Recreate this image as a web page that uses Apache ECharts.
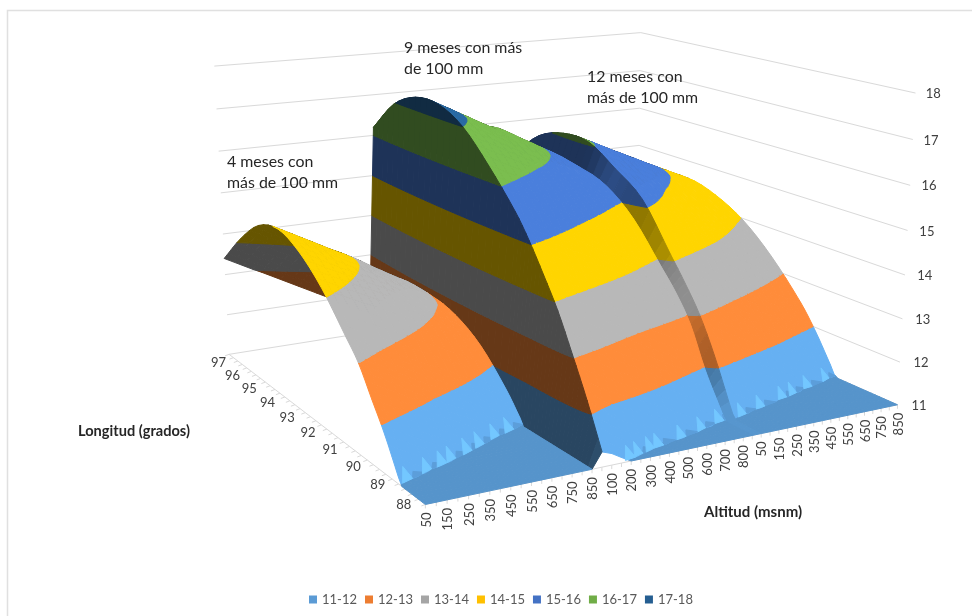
<!DOCTYPE html>
<html><head><meta charset="utf-8">
<script src="https://cdn.jsdelivr.net/npm/echarts@6/dist/echarts.min.js"></script>
<style>html,body{margin:0;padding:0;background:#fff}#c{width:972px;height:616px}</style>
</head><body><div id="c"></div>
<script>
// ---------- data ----------
const altitudes = [50,100,150,200,250,300,350,400,450,500,550,600,650,700,750,800,850];
const longitudes = [88,88.5,89,89.5,90,90.5,91,92,93,94,95,96,97];
const longitudeLabels = [88,89,90,91,92,93,94,95,96,97];
const temperatureTicks = [11,12,13,14,15,16,17,18];
const bandNames = ['11-12','12-13','13-14','14-15','15-16','16-17','17-18'];
// one row per longitude, one column per altitude; values under the axis minimum (11) lie on the chart floor
const temp4Meses = [
[11,11,11,11,11,11,11,11,11,11,11,11,11,11,11,11,11],
[10.45,10.33,10.2,10.08,9.95,9.83,9.7,9.58,9.45,9.33,9.2,9.08,8.95,8.83,8.7,8.58,8.45],
[11.14,11.02,10.89,10.77,10.64,10.52,10.39,10.27,10.14,10.02,9.89,9.77,9.64,9.52,9.39,9.27,9.14],
[11.84,11.72,11.60,11.48,11.36,11.24,11.12,11,10.88,10.76,10.64,10.52,10.4,10.28,10.16,10.04,9.92],
[12.42,12.30,12.18,12.06,11.94,11.82,11.70,11.58,11.46,11.34,11.22,11.10,10.98,10.86,10.74,10.62,10.5],
[13.0,12.87,12.74,12.62,12.49,12.36,12.23,12.10,12.0,11.89,11.79,11.68,11.58,11.47,11.36,11.26,11.15],
[13.39,13.28,13.17,13.05,12.94,12.83,12.72,12.61,12.50,12.38,12.27,12.16,12.05,11.94,11.83,11.71,11.60],
[14.13,14.02,13.91,13.80,13.69,13.58,13.47,13.36,13.25,13.14,13.02,12.90,12.79,12.67,12.56,12.42,12.29],
[14.65,14.54,14.42,14.31,14.19,14.08,13.97,13.86,13.75,13.62,13.49,13.36,13.24,13.11,13.0,12.85,12.68],
[14.90,14.78,14.66,14.54,14.42,14.30,14.18,14.07,13.95,13.82,13.68,13.55,13.42,13.29,13.17,13.01,12.83],
[14.72,14.60,14.49,14.37,14.26,14.14,14.02,13.92,13.80,13.68,13.54,13.42,13.29,13.17,13.05,12.91,12.73],
[14.15,14.04,13.93,13.83,13.72,13.61,13.50,13.40,13.30,13.18,13.05,12.93,12.81,12.67,12.56,12.42,12.27],
[13.40,13.28,13.16,13.04,12.93,12.81,12.69,12.57,12.45,12.33,12.21,12.09,11.98,11.86,11.74,11.62,11.50]];
const temp9Meses = [
[11.33,11.25,11.12,11,10.89,10.78,10.66,10.55,10.44,10.33,10.22,10.1,10,9.9,9.8,9.7,9.6],
[12.25,12.07,11.9,11.72,11.62,11.53,11.44,11.35,11.27,11.19,11.09,11,10.9,10.8,10.7,10.62,10.55],
[13.07,12.96,12.84,12.73,12.61,12.50,12.39,12.27,12.16,12.04,11.93,11.82,11.70,11.59,11.47,11.36,11.25],
[13.85,13.73,13.61,13.49,13.38,13.26,13.14,13.02,12.90,12.78,12.66,12.54,12.43,12.31,12.19,12.07,11.95],
[14.48,14.38,14.27,14.17,14.07,13.96,13.86,13.75,13.65,13.55,13.44,13.34,13.24,13.13,13.03,12.92,12.82],
[15.07,14.97,14.86,14.76,14.65,14.55,14.44,14.34,14.24,14.13,14.03,13.92,13.82,13.71,13.61,13.50,13.40],
[15.57,15.46,15.36,15.25,15.14,15.03,14.93,14.82,14.71,14.60,14.50,14.39,14.28,14.17,14.07,13.96,13.85],
[16.35,16.25,16.14,16.04,15.93,15.83,15.72,15.62,15.52,15.41,15.31,15.20,15.10,14.99,14.89,14.80,14.72],
[17.0,16.89,16.78,16.67,16.56,16.44,16.33,16.22,16.14,16.03,15.92,15.81,15.70,15.59,15.47,15.36,15.26],
[17.32,17.20,17.09,16.97,16.86,16.74,16.63,16.51,16.46,16.34,16.22,16.11,15.99,15.88,15.76,15.62,15.47],
[17.30,17.18,17.07,16.95,16.84,16.72,16.61,16.49,16.44,16.32,16.20,16.09,15.97,15.86,15.74,15.60,15.45],
[16.95,16.83,16.72,16.60,16.49,16.37,16.26,16.14,16.06,15.94,15.82,15.71,15.59,15.48,15.36,15.23,15.10],
[16.20,16.09,15.98,15.86,15.75,15.64,15.53,15.41,15.30,15.19,15.08,14.96,14.85,14.74,14.63,14.51,14.40]];
const temp12Meses = [
[11,11,11,11,11,11,11,11,11,11,11,11,11,11,11,11,11],
[10.46,10.35,10.24,10.13,10.02,9.91,9.8,9.69,9.58,9.47,9.36,9.25,9.14,9.03,8.92,8.81,8.7],
[11.34,11.23,11.12,11.01,10.9,10.79,10.68,10.57,10.46,10.35,10.24,10.13,10.02,9.91,9.8,9.69,9.58],
[12.25,12.14,12.02,11.91,11.80,11.68,11.57,11.45,11.34,11.23,11.11,11,10.9,10.8,10.7,10.6,10.5],
[13.02,12.91,12.80,12.69,12.58,12.47,12.36,12.25,12.14,12.03,11.92,11.81,11.70,11.59,11.47,11.36,11.25],
[13.60,13.49,13.39,13.28,13.18,13.07,12.96,12.86,12.75,12.64,12.54,12.43,12.33,12.22,12.11,12.01,11.90],
[14.12,14.02,13.91,13.81,13.70,13.60,13.49,13.39,13.29,13.18,13.08,12.97,12.87,12.76,12.66,12.55,12.45],
[15.15,15.03,14.92,14.80,14.69,14.57,14.46,14.34,14.23,14.11,13.99,13.88,13.76,13.65,13.53,13.42,13.30],
[15.65,15.54,15.44,15.33,15.23,15.12,15.01,14.91,14.80,14.69,14.59,14.48,14.38,14.27,14.16,14.06,13.95],
[16.07,15.96,15.86,15.75,15.64,15.53,15.43,15.32,15.21,15.10,15.0,14.89,14.78,14.67,14.57,14.46,14.35],
[16.08,15.98,15.89,15.79,15.70,15.60,15.51,15.41,15.32,15.22,15.12,15.03,14.93,14.84,14.74,14.65,14.55],
[15.82,15.73,15.64,15.55,15.47,15.38,15.29,15.20,15.11,15.02,14.93,14.84,14.76,14.67,14.58,14.49,14.40],
[15.20,15.12,15.04,14.96,14.88,14.79,14.71,14.63,14.55,14.47,14.39,14.31,14.23,14.14,14.06,13.98,13.90]];
// altitude column (fractional) of each small mesh spike along the foot of every ridge
const spikes4Meses = [.8,3.2,5,6.2,8.3,10,12.2,14.1];
const spikes9Meses = [3,4.1,5.7,6.8,9.8,12.6,15.2];
const spikes12Meses = [1.1,3.9,7.3,8.9,11.4,14.4];
const annotations = ['9 meses con más\nde 100 mm','12 meses con\nmás de 100 mm','4 meses con\nmás de 100 mm'];

// ---------- styles ----------
const legendColors = ['#5B9BD5','#ED7D31','#A5A5A5','#FFC000','#4472C4','#70AD47','#255E91'];
const surfaceColors = ['#66B0F2','#FF8C3A','#B8B8B8','#FFD500','#4A7FDC','#7BBE4F','#2A6BA5'];
const FONT = 'Lato';
const GRID = '#D9D9D9', TEXT = '#404040';

// ---------- camera: projective map fitted to the axis frame of the picture ----------
// a = position along the altitude axis, l = along the longitude axis (0..1), z = temperature
const frame = [
 [0,0,11,425,505],[1,0,11,895,405],[0,1,11,228,353],[1,1,11,639,290],
 [0,1,18,215,66],[1,1,18,640,32],[1,0,18,915,93],
 [1,1,15,638,146],[0,1,15,221,194],[1,0,15,910,230],[.32,0,11,593,469]
];
function fitCamera(pts){
  const n=11, M=[...Array(n)].map(()=>Array(n+1).fill(0));
  const add=(r,v)=>{for(let i=0;i<n;i++){for(let j=0;j<n;j++)M[i][j]+=r[i]*r[j];M[i][n]+=r[i]*v;}};
  pts.forEach(([a,l,z0,x,y])=>{const z=(z0-11)/7;
    add([a,l,z,1,0,0,0,0,-x*a,-x*l,-x*z],x);
    add([0,0,0,0,a,l,z,1,-y*a,-y*l,-y*z],y);});
  for(let c=0;c<n;c++){let p=c;for(let r=c+1;r<n;r++)if(Math.abs(M[r][c])>Math.abs(M[p][c]))p=r;
    [M[c],M[p]]=[M[p],M[c]];
    for(let r=0;r<n;r++){if(r===c)continue;const f=M[r][c]/M[c][c];for(let k=c;k<=n;k++)M[r][k]-=f*M[c][k];}}
  return M.map((row,i)=>row[n]/row[i]);
}
const K = fitCamera(frame);
function project(a,l,z0){const z=(z0-11)/7,w=K[8]*a+K[9]*l+K[10]*z+1;
  return [(K[0]*a+K[1]*l+K[2]*z+K[3])/w,(K[4]*a+K[5]*l+K[6]*z+K[7])/w];}

// ---------- surface: cut into the temperature bands ----------
const ridges=[temp4Meses,temp9Meses,temp12Meses];
const ridgeSpikes=[spikes4Meses,spikes9Meses,spikes12Meses];
const nAlt=altitudes.length,nCols=nAlt*3;
const column=c=>{const r=ridges[Math.floor(c/nAlt)],k=c%nAlt;return r.map(row=>row[k]);};
const lonPos=longitudes.map(v=>(v-88)/9);
const SUB=4,FOOT=11.04;
function smoothColumn(vals){ // curved drawing between the read rows, straight along the flat foot
  const n=vals.length,m=vals.map((v,i)=>{const p=Math.max(i-1,0),q=Math.min(i+1,n-1);
    if(v<=11)return 0;
    if(i>0&&vals[i-1]<=11)return (vals[q]-v)/(lonPos[q]-lonPos[i]);
    return (vals[q]-vals[p])/(lonPos[q]-lonPos[p]);}),out=[];
  for(let i=0;i<n-1;i++){const h=lonPos[i+1]-lonPos[i],lin=vals[i]<=11||vals[i+1]<=11;
    for(let s=0;s<SUB;s++){const t=s/SUB,t2=t*t,t3=t2*t;
      out.push(Math.max(11,lin?vals[i]+(vals[i+1]-vals[i])*t:(2*t3-3*t2+1)*vals[i]+(t3-2*t2+t)*h*m[i]+(-2*t3+3*t2)*vals[i+1]+(t3-t2)*h*m[i+1]));}}
  out.push(Math.max(11,vals[n-1]));return out;
}
const lGrid=[];for(let i=0;i<lonPos.length-1;i++)for(let s=0;s<SUB;s++)lGrid.push(lonPos[i]+(lonPos[i+1]-lonPos[i])*s/SUB);lGrid.push(1);
const sampled=[...Array(nCols).keys()].map(c=>smoothColumn(column(c)));
const aOf=c=>c/(nCols-1);
const quadArea=p=>{let s=0;p.forEach((q,i)=>{const r=p[(i+1)%p.length];s+=q[0]*r[1]-r[0]*q[1];});return s;};
const floorSign=Math.sign(quadArea([project(0,0,11),project(1,0,11),project(1,1,11),project(0,1,11)]));
function clipBand(poly,lo,hi){
  const cut=(pts,keep,val)=>{const out=[];pts.forEach((p,i)=>{const q=pts[(i+1)%pts.length];
    const kp=keep(p[2]),kq=keep(q[2]);if(kp)out.push(p);
    if(kp!==kq){const t=(val-p[2])/(q[2]-p[2]);out.push([p[0]+(q[0]-p[0])*t,p[1]+(q[1]-p[1])*t,val]);}});return out;};
  let r=cut(poly,z=>z>=lo,lo);if(r.length<3)return r;return cut(r,z=>z<=hi,hi);
}
const pieces=bandNames.map(()=>[]);
let order=0;
const ridgeOrder=[];
for(let c=nCols-2;c>=0;c--){
  const cliff=(c+1)%nAlt===0;
  for(let s=lGrid.length-2;s>=0;s--){
    order++;
    const a0=aOf(c),a1=aOf(c+1),l0=lGrid[s],l1=lGrid[s+1];
    const z00=sampled[c][s],z10=sampled[c+1][s],z11=sampled[c+1][s+1],z01=sampled[c][s+1];
    const quad=[[a0,l0,z00],[a1,l0,z10],[a1,l1,z11],[a0,l1,z01]];
    let shade=1;
    if(cliff){const dz=Math.max(Math.abs(z10-z00),Math.abs(z11-z01));shade=Math.min(.85,Math.max(.4,.95-.9*dz));}
    else if(quadArea(quad.map(q=>project(q[0],q[1],q[2])))*floorSign<0) shade=.4;
    for(let b=0;b<bandNames.length;b++){
      if(b===0&&!cliff){
        const foot=clipBand(quad,11,FOOT),rest=clipBand(quad,FOOT,12);
        if(foot.length>=3)pieces[0].push({poly:foot,shade:.84,order});
        if(rest.length>=3)pieces[0].push({poly:rest,shade,order});
      }else{
        const poly=clipBand(quad,temperatureTicks[b],temperatureTicks[b+1]);
        if(poly.length>=3)pieces[b].push({poly,shade,order});
      }
    }
  }
  if(c%nAlt===0)ridgeOrder[c/nAlt]=order+.5;
}
// spikes along the foot of each ridge
function surfaceZ(cf,l){const c=Math.min(Math.floor(cf),nCols-2),t=cf-c;
  let s=0;while(s<lGrid.length-2&&lGrid[s+1]<l)s++;
  const u=(l-lGrid[s])/(lGrid[s+1]-lGrid[s]);
  const z0=sampled[c][s]+(sampled[c][s+1]-sampled[c][s])*u,z1=sampled[c+1][s]+(sampled[c+1][s+1]-sampled[c+1][s])*u;
  return z0+(z1-z0)*t;}
function lWhere(cf,zt){for(let l=0;l<.6;l+=.001)if(surfaceZ(cf,l)>=zt)return l;return .6;}
ridgeSpikes.forEach((list,r)=>list.forEach(sp=>{
  const t=r*nAlt+sp,lo=r*nAlt,hi=r*nAlt+nAlt-1,clampC=x=>Math.max(lo,Math.min(hi,x));
  const A=clampC(t-.6),B=clampC(t+.6),C=clampC(t+2.2);
  const apex=[aOf(t),lWhere(t,11.27),11.27],wedge=[aOf(clampC(t+.9)),lWhere(clampC(t+.9),11.13),11.13];
  const foot=x=>{const l=lWhere(x,FOOT);return [aOf(x),l,FOOT];};
  pieces[0].push({poly:[foot(B),foot(C),wedge],shade:.9,order:ridgeOrder[r]});
  pieces[0].push({poly:[foot(A),foot(B),apex],shade:1.13,order:ridgeOrder[r]+.1});
}));
const scaleHex=(hex,f)=>{const n=parseInt(hex.slice(1),16);
  return 'rgb('+[(n>>16)&255,(n>>8)&255,n&255].map(v=>Math.min(255,Math.round(v*f))).join(',')+')';};

const bandSeries=bandNames.map((name,b)=>({
  type:'custom',name,coordinateSystem:'none',silent:true,z:3,animation:false,progressive:0,
  itemStyle:{color:legendColors[b]},
  data:pieces[b].map((_,i)=>i),
  renderItem:(params)=>{const p=pieces[b][params.dataIndex],fill=scaleHex(surfaceColors[b],p.shade);
    return {type:'polygon',z2:p.order,shape:{points:p.poly.map(q=>project(q[0],q[1],q[2]))},
      style:{fill,stroke:fill,lineWidth:1}};}
}));

// ---------- frame, ticks and labels ----------
const line=(p,q,w)=>({type:'line',shape:{x1:p[0],y1:p[1],x2:q[0],y2:q[1]},style:{stroke:GRID,lineWidth:w||1}});
const gridSeries={type:'custom',coordinateSystem:'none',silent:true,z:1,animation:false,data:temperatureTicks,
  renderItem:(params)=>{const t=temperatureTicks[params.dataIndex],L=project(0,1,t),B=project(1,1,t),R=project(1,0,t);
    return {type:'group',children:[line(L,B),line(B,R),
      {type:'text',x:R[0]+14-(t-11)*.55,y:R[1]+1,style:{text:String(t),font:'13px '+FONT,fill:TEXT,align:'left',verticalAlign:'middle'}}]};}};
const categories=[...altitudes,...altitudes,...altitudes];
const altAxisSeries={type:'custom',coordinateSystem:'none',silent:true,z:2,animation:false,data:categories,
  renderItem:(params)=>{const i=params.dataIndex,p=project(aOf(i),0,11),ch=[];
    if(i<nCols-1)ch.push(line(p,project(aOf(i+1),0,11)));
    ch.push(line(p,[p[0],p[1]+4]));
    if(i%2===0)ch.push({type:'text',x:p[0]+1,y:p[1]+8,rotation:Math.PI/2,
      style:{text:String(categories[i]),font:'13px '+FONT,fill:TEXT,align:'right',verticalAlign:'middle'}});
    return {type:'group',children:ch};}};
const lonTicks=[];for(let v=88;v<=97.001;v+=.25)lonTicks.push(v);
const lonTickSeries={type:'custom',coordinateSystem:'none',silent:true,z:2,animation:false,data:lonTicks,
  renderItem:(params)=>{const i=params.dataIndex,l=(lonTicks[i]-88)/9,p=project(0,l,11),ch=[line(p,[p[0]-4,p[1]+1.5])];
    if(i<lonTicks.length-1)ch.push(line(p,project(0,(lonTicks[i+1]-88)/9,11)));
    return {type:'group',children:ch};}};
const lonLabelSeries={type:'custom',coordinateSystem:'none',silent:true,z:2,animation:false,data:longitudeLabels,
  renderItem:(params)=>{const v=longitudeLabels[params.dataIndex],l=(v-88)/9,p=project(0,l,11);
    return {type:'text',x:p[0]-(14-6*l-5*Math.pow(l,8)),y:p[1]+8.7*l,style:{text:String(v),font:'13px '+FONT,fill:TEXT,align:'right',verticalAlign:'middle'}};}};

const noteStyle=text=>({text,font:'15.9px '+FONT,fill:'#262626',lineHeight:21,align:'left',verticalAlign:'top'});
const chart=echarts.init(document.getElementById('c'),null,{renderer:'canvas'});
chart.setOption({
  animation:false,backgroundColor:'#fff',
  legend:{left:304,top:588,itemWidth:8,itemHeight:8,itemGap:8,icon:'rect',selectedMode:false,
    data:bandNames,textStyle:{fontFamily:FONT,fontSize:13,color:'#595959'}},
  graphic:[
    {type:'polyline',z:0,silent:true,shape:{points:[[7.5,616],[7.5,10.5],[972,10.5]]},style:{fill:'none',stroke:'#E0E0E0',lineWidth:1.5}},
    {type:'text',z:10,x:404,y:37,style:noteStyle(annotations[0])},
    {type:'text',z:10,x:587,y:66,style:noteStyle(annotations[1])},
    {type:'text',z:10,x:227,y:151,style:noteStyle(annotations[2])},
    {type:'text',z:10,x:78,y:424,style:{text:'Longitud (grados)',font:'bold 14.6px '+FONT,fill:'#262626'}},
    {type:'text',z:10,x:704,y:505,style:{text:'Altitud (msnm)',font:'bold 15px '+FONT,fill:'#262626'}}
  ],
  series:[gridSeries,altAxisSeries,lonTickSeries,lonLabelSeries,...bandSeries]
});
</script></body></html>
